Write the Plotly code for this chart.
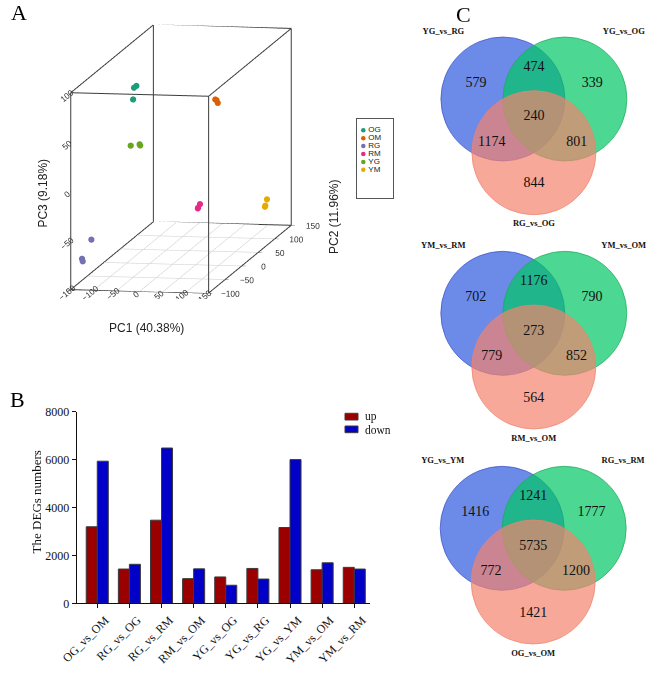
import plotly.graph_objects as go

W, H = 669, 682
def fx(p): return p / W
def fy(p): return 1 - p / H

SERIF = "Liberation Serif, Times New Roman, serif"
SANS = "Liberation Sans, Arial, Helvetica, sans-serif"

# ---------------- Panel A : PCA ----------------
groups = ["OG", "OM", "RG", "RM", "YG", "YM"]
group_colors = ["#1B9E77", "#D95F02", "#7570B3", "#E7298A", "#66A61E", "#E6AB02"]
sample_group = ["OG"] * 3 + ["OM"] * 3 + ["RG"] * 3 + ["RM"] * 3 + ["YG"] * 3 + ["YM"] * 3
pc1 = [-88, -85, -85, 95, 100, 91, -134, -140, -137, 55, 57, 56, -70, -52, -48, 133, 130, 128]
pc2 = [5, 8, -2, 0, -3, 2, -60, -80, -82, 0, 3, -2, -30, -28, -32, 100, 98, 102]
pc3 = [77, 78, 67, 68, 66, 68, -60, -74, -76, -42, -39, -42, 28, 29, 29, -60, -67, -67]
pc1_range, pc2_range, pc3_range = [-150, 150], [-100, 150], [-100, 100]
pc1_ticks = [-150, -100, -50, 0, 50, 100, 150]
pc2_ticks = [-100, -50, 0, 50, 100, 150]
pc3_ticks = [-100, -50, 0, 50, 100]

# ---------------- Panel B : DEG bars ----------------
comparisons = ["OG_vs_OM", "RG_vs_OG", "RG_vs_RM", "RM_vs_OM", "YG_vs_OG",
               "YG_vs_RG", "YG_vs_YM", "YM_vs_OM", "YM_vs_RM"]
up_counts = [3195, 1430, 3470, 1030, 1100, 1455, 3165, 1400, 1500]
down_counts = [5933, 1629, 6483, 1438, 754, 1012, 5999, 1691, 1430]
deg_ticks = [0, 2000, 4000, 6000, 8000]

# ---------------- Panel C : Venn diagrams ----------------
venn1_sets = ["YG_vs_RG", "YG_vs_OG", "RG_vs_OG"]
venn1_counts = [579, 474, 339, 240, 1174, 801, 844]
venn2_sets = ["YM_vs_RM", "YM_vs_OM", "RM_vs_OM"]
venn2_counts = [702, 1176, 790, 273, 779, 852, 564]
venn3_sets = ["YG_vs_YM", "RG_vs_RM", "OG_vs_OM"]
venn3_counts = [1416, 1241, 1777, 5735, 772, 1200, 1421]

fig = go.Figure()

# ---- 3D scatter
for g, c in zip(groups, group_colors):
    idx = [i for i, s in enumerate(sample_group) if s == g]
    fig.add_trace(go.Scatter3d(
        x=[pc1[i] for i in idx], y=[pc2[i] for i in idx], z=[pc3[i] for i in idx],
        mode="markers", marker=dict(size=3.6, color=c, line=dict(width=0)),
        name=g, showlegend=False, scene="scene"))

# box edges
bx, by, bz = [], [], []
for yv in pc2_range:
    for zv in pc3_range:
        bx += [pc1_range[0], pc1_range[1], None]; by += [yv, yv, None]; bz += [zv, zv, None]
for xv in pc1_range:
    for zv in pc3_range:
        bx += [xv, xv, None]; by += [pc2_range[0], pc2_range[1], None]; bz += [zv, zv, None]
for xv in pc1_range:
    for yv in pc2_range:
        bx += [xv, xv, None]; by += [yv, yv, None]; bz += [pc3_range[0], pc3_range[1], None]
# floor grid
gx, gy, gz = [], [], []
for yv in pc2_ticks[1:-1]:
    gx += [pc1_range[0], pc1_range[1], None]; gy += [yv, yv, None]; gz += [pc3_range[0]] * 2 + [None]
for xv in pc1_ticks[1:-1]:
    gx += [xv, xv, None]; gy += [pc2_range[0], pc2_range[1], None]; gz += [pc3_range[0]] * 2 + [None]
fig.add_trace(go.Scatter3d(x=gx, y=gy, z=gz, mode="lines", line=dict(color="#d4d4d4", width=1.2),
                           showlegend=False, hoverinfo="skip", scene="scene"))
fig.add_trace(go.Scatter3d(x=bx, y=by, z=bz, mode="lines", line=dict(color="#3c3c3c", width=2),
                           showlegend=False, hoverinfo="skip", scene="scene"))

def axis3d(rng, ticks):
    return dict(range=rng, tickvals=ticks, autorange=False, showgrid=False, showbackground=False,
                zeroline=False, showline=False, ticks="outside", ticklen=4, tickcolor="#444",
                tickfont=dict(family=SANS, size=10, color="#333"), title=dict(text=""),
                showspikes=False)

k = 1.98
eye_dir = (0.1718, -0.9745, 0.1447)
scene = dict(
    domain=dict(x=[fx(41), fx(321)], y=[fy(298.7), fy(18.7)]),
    aspectmode="manual", aspectratio=dict(x=1, y=3.40, z=1.421),
    camera=dict(eye=dict(x=eye_dir[0] * k, y=eye_dir[1] * k, z=eye_dir[2] * k),
                center=dict(x=0, y=0, z=0), up=dict(x=0, y=0, z=1),
                projection=dict(type="orthographic")),
    xaxis=axis3d(pc1_range, pc1_ticks), yaxis=axis3d(pc2_range, pc2_ticks),
    zaxis=axis3d(pc3_range, pc3_ticks), bgcolor="rgba(0,0,0,0)")

# legend for panel A (hidden axis x5/y5)
fig.add_trace(go.Scatter(x=[6] * len(groups), y=list(range(len(groups))), mode="markers",
                         marker=dict(size=4.5, color=group_colors), xaxis="x5", yaxis="y5",
                         showlegend=False, hoverinfo="skip"))
fig.add_trace(go.Scatter(x=[11] * len(groups), y=list(range(len(groups))), mode="text",
                         text=groups, textposition="middle right",
                         textfont=dict(family=SANS, size=8, color="#222"),
                         xaxis="x5", yaxis="y5", showlegend=False, hoverinfo="skip", cliponaxis=False))

# ---- bars
bar_line = dict(color="#3a3a3a", width=1)
fig.add_trace(go.Bar(x=comparisons, y=up_counts, name="up", marker=dict(color="#9B0000", line=bar_line),
                     xaxis="x", yaxis="y", showlegend=False))
fig.add_trace(go.Bar(x=comparisons, y=down_counts, name="down", marker=dict(color="#0000C8", line=bar_line),
                     xaxis="x", yaxis="y", showlegend=False))

# ---- Venn diagrams
venn_region_pos = [(-0.935, 0.25), (0, 0.505), (0.94, 0.25), (0, -0.29), (-0.68, -0.70), (0.69, -0.70), (0, -1.37)]
venn_label_pos = [(-1.46, 1.09), (1.45, 1.09), (0, -2.02)]
circle_centers = [(-0.5, 0.0), (0.5, 0.0), (0.0, -0.866)]
circle_fill = ["rgba(45,90,222,0.70)", "rgba(0,200,100,0.70)", "rgba(244,131,109,0.70)"]
circle_line = ["rgba(60,80,200,0.9)", "rgba(30,170,90,0.9)", "rgba(240,130,110,0.9)"]
venn_origins = [(533.9, 99.0), (533.8, 313.3), (533.2, 528.3)]
PXU = 62.0
shapes = []
venns = [(venn1_sets, venn1_counts), (venn2_sets, venn2_counts), (venn3_sets, venn3_counts)]
for vi, ((sets, counts), (ox, oy)) in enumerate(zip(venns, venn_origins)):
    ax = str(vi + 2)
    for (cx, cy), fc, lc in zip(circle_centers, circle_fill, circle_line):
        shapes.append(dict(type="circle", xref="x" + ax, yref="y" + ax, x0=cx - 1, x1=cx + 1,
                           y0=cy - 1, y1=cy + 1, fillcolor=fc, line=dict(color=lc, width=0.8),
                           layer="below"))
    fig.add_trace(go.Scatter(x=[p[0] for p in venn_region_pos], y=[p[1] for p in venn_region_pos],
                             mode="text", text=[str(c) for c in counts],
                             textfont=dict(family=SERIF, size=14, color="#111"),
                             xaxis="x" + ax, yaxis="y" + ax, showlegend=False, hoverinfo="skip",
                             cliponaxis=False))
    fig.add_trace(go.Scatter(x=[p[0] for p in venn_label_pos], y=[p[1] for p in venn_label_pos],
                             mode="text", text=["<b>%s</b>" % s for s in sets],
                             textfont=dict(family=SERIF, size=8.5, color="#111"),
                             xaxis="x" + ax, yaxis="y" + ax, showlegend=False, hoverinfo="skip",
                             cliponaxis=False))

hidden = dict(visible=False, showgrid=False, zeroline=False, fixedrange=True)
layout_axes = {}
for vi, (ox, oy) in enumerate(venn_origins):
    ax = str(vi + 2)
    layout_axes["xaxis" + ax] = dict(hidden, range=[-2, 2], domain=[fx(ox - 2 * PXU), fx(ox + 2 * PXU)],
                                     anchor="y" + ax)
    layout_axes["yaxis" + ax] = dict(hidden, range=[-2.4, 1.4], domain=[fy(oy + 2.4 * PXU), fy(oy - 1.4 * PXU)],
                                     anchor="x" + ax)

# legend A box axis
layout_axes["xaxis5"] = dict(range=[0, 36], domain=[fx(357.3), fx(393.3)], anchor="y5",
                             showline=True, mirror=True, linecolor="#555", linewidth=1,
                             showticklabels=False, ticks="", showgrid=False, zeroline=False)
layout_axes["yaxis5"] = dict(range=[8.6, -1.43], domain=[fy(198.3), fy(119)], anchor="x5",
                             showline=True, mirror=True, linecolor="#555", linewidth=1,
                             showticklabels=False, ticks="", showgrid=False, zeroline=False)

# bar legend (panel B)
shapes.append(dict(type="rect", xref="paper", yref="paper", x0=fx(345), x1=fx(358), y0=fy(420), y1=fy(413.3),
                   fillcolor="#9B0000", line=dict(color="#3a3a3a", width=1)))
shapes.append(dict(type="rect", xref="paper", yref="paper", x0=fx(345), x1=fx(358), y0=fy(432.7), y1=fy(426),
                   fillcolor="#0000C8", line=dict(color="#3a3a3a", width=1)))

def ann(text, x, y, size, family, angle=0, xanchor="center", color="#111"):
    return dict(text=text, x=fx(x), y=fy(y), xref="paper", yref="paper", showarrow=False,
                xanchor=xanchor, yanchor="middle", textangle=angle, borderpad=0,
                font=dict(family=family, size=size, color=color))

annotations = [
    ann("up", 364, 416.5, 11.5, SERIF, xanchor="left"),
    ann("down", 364, 429.5, 11.5, SERIF, xanchor="left"),
    ann("A", 19, 13, 22, SERIF, color="#000"),
    ann("B", 17.5, 399, 22, SERIF, color="#000"),
    ann("C", 463, 15, 22, SERIF, color="#000"),
    ann("PC1 (40.38%)", 146.7, 328.3, 12, SANS, color="#222"),
    ann("PC3 (9.18%)", 43.3, 193.3, 12, SANS, angle=-90, color="#222"),
    ann("PC2 (11.96%)", 333.3, 216.7, 12, SANS, angle=-90, color="#222"),
    ann("The DEGs numbers", 36.7, 501.7, 13, SERIF, angle=-90),
]

fig.update_layout(
    width=W, height=H, autosize=False, margin=dict(l=0, r=0, t=0, b=0),
    paper_bgcolor="white", plot_bgcolor="rgba(0,0,0,0)",
    template="none", showlegend=False, hovermode=False,
    barmode="group", bargap=0.314, bargroupgap=0,
    scene=scene,
    xaxis=dict(domain=[fx(76.7), fx(370)], anchor="y", type="category", range=[-0.64, 8.49],
               showline=True, linecolor="#111", linewidth=1.3, ticks="outside", ticklen=4,
               tickcolor="#111", tickangle=-45, ticklabelshift=8,
               tickfont=dict(family=SERIF, size=12, color="#111"), showgrid=False, zeroline=False),
    yaxis=dict(domain=[fy(603.3), fy(411.7)], anchor="x", range=[0, 8000], tickvals=deg_ticks,
               showline=True, linecolor="#111", linewidth=1.3, ticks="outside", ticklen=4,
               tickcolor="#111", tickfont=dict(family=SERIF, size=12, color="#111"),
               showgrid=False, zeroline=False),
    shapes=shapes, annotations=annotations,
    **layout_axes,
)

fig.write_html("out.html", config=dict(displayModeBar=False),
               post_script="document.body.style.margin='0px';")
